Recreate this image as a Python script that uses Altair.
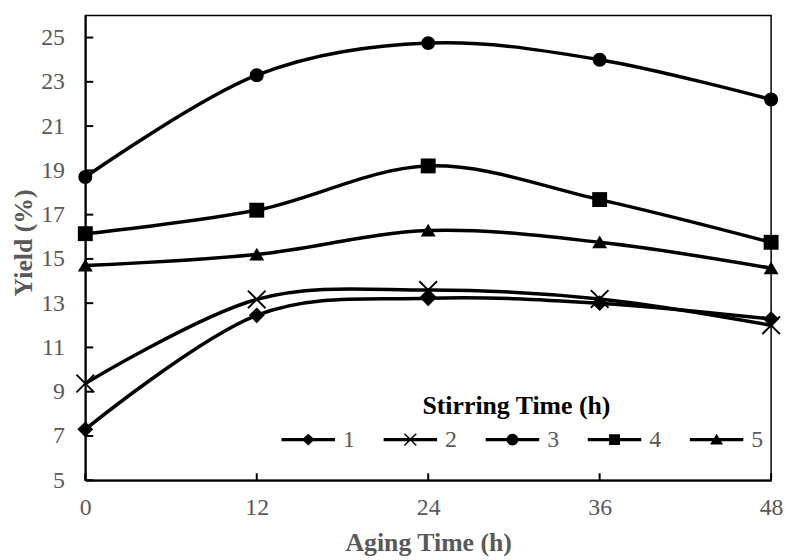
import altair as alt
import pandas as pd

# ---- data ----
aging = [0, 12, 24, 36, 48]
series_names = ["1", "2", "3", "4", "5"]
yield_1 = [7.3, 12.45, 13.22, 13.0, 12.28]
yield_2 = [9.37, 13.17, 13.59, 13.19, 12.0]
yield_3 = [18.7, 23.3, 24.75, 24.0, 22.2]
yield_4 = [16.14, 17.2, 19.2, 17.68, 15.75]
yield_5 = [14.7, 15.2, 16.28, 15.75, 14.58]
x_ticks = [0, 12, 24, 36, 48]
y_ticks = [5, 7, 9, 11, 13, 15, 17, 19, 21, 23, 25]

rows = []
for name, vals in zip(series_names, [yield_1, yield_2, yield_3, yield_4, yield_5]):
    for a, v in zip(aging, vals):
        rows.append({"aging": a, "yield": v, "stir": name})
df = pd.DataFrame(rows)


# ---- marker shapes (SVG paths, unit coordinates) ----
def fmt(v):
    return f"{v:.3f}"


def poly(pts):
    return "M" + "L".join(f"{fmt(x)},{fmt(y)}" for x, y in pts) + "Z"


def diamond(cx, hw, hh):
    return poly([(cx - hw, 0), (cx, -hh), (cx + hw, 0), (cx, hh)])


def square(cx, h):
    return poly([(cx - h, -h), (cx + h, -h), (cx + h, h), (cx - h, h)])


def triangle(cx, hw, top, bot):
    return poly([(cx, top), (cx + hw, bot), (cx - hw, bot)])


def circle(cx, r):
    return (f"M{fmt(cx + r)},0A{fmt(r)},{fmt(r)},0,1,1,{fmt(cx - r)},0"
            f"A{fmt(r)},{fmt(r)},0,1,1,{fmt(cx + r)},0Z")


def xmark(cx, L, a):
    pts = [(-L, -L + a), (-L + a, -L), (0, -a), (L - a, -L), (L, -L + a), (a, 0),
           (L, L - a), (L - a, L), (0, a), (-L + a, L), (-L, L - a), (-a, 0)]
    return poly([(cx + x, y) for x, y in pts])


marker_paths = [
    diamond(0, 1.0, 1.0),
    xmark(0, 1.2, 0.17),
    circle(0, 0.875),
    square(0, 0.94),
    triangle(0, 0.94, -0.85, 0.75),
]

LX = 5.4  # legend line length in units (size 400 -> 10 px per unit)
mid = LX / 2
line_path = poly([(0, -0.17), (LX, -0.17), (LX, 0.17), (0, 0.17)])
legend_paths = [
    line_path + diamond(mid, 0.65, 0.6),
    line_path + xmark(mid, 0.65, 0.1),
    line_path + circle(mid, 0.6),
    line_path + square(mid, 0.55),
    line_path + triangle(mid, 0.65, -0.6, 0.5),
]

W, H = 692, 469
FONT = "Liberation Serif"
GRAY = "#595959"

xs = alt.Scale(domain=[0, 48], nice=False, zero=False)
ys = alt.Scale(domain=[5, 26], nice=False, zero=False)

x_axis = alt.Axis(values=x_ticks, title="Aging Time (h)", grid=False, ticks=False, tickSize=0,
                  labelFont=FONT, labelFontSize=24, labelColor=GRAY, labelPadding=16,
                  labelFlush=False, labelOverlap=False,
                  domainColor="black", domainWidth=2,
                  titleFont=FONT, titleFontSize=26, titleFontWeight="bold", titleColor=GRAY,
                  titleX=W / 2, titleY=71, titleBaseline="alphabetic", titleAlign="center")
y_axis = alt.Axis(values=y_ticks, title="Yield (%)", grid=False, ticks=False, tickSize=0,
                  labelFont=FONT, labelFontSize=24, labelColor=GRAY, labelPadding=21,
                  labelFlush=False, labelOverlap=False,
                  domainColor="black", domainWidth=2,
                  titleFont=FONT, titleFontSize=26, titleFontWeight="bold", titleColor=GRAY,
                  titleAngle=270, titleX=-54, titleY=229, titleBaseline="alphabetic",
                  titleAlign="center")

base = alt.Chart(df)

lines = base.mark_line(color="black", strokeWidth=3.5, interpolate="cardinal").encode(
    x=alt.X("aging:Q", scale=xs, axis=x_axis),
    y=alt.Y("yield:Q", scale=ys, axis=y_axis),
    detail="stir:N",
)

points = base.mark_point(filled=True, color="black", opacity=1, size=256).encode(
    x=alt.X("aging:Q", scale=xs, axis=x_axis),
    y=alt.Y("yield:Q", scale=ys, axis=y_axis),
    shape=alt.Shape("stir:N", scale=alt.Scale(domain=series_names, range=marker_paths), legend=None),
)

legend_layer = base.mark_point(filled=True, color="black", opacity=1, size=400, clip=True).encode(
    x=alt.value(-500),
    y=alt.value(-500),
    shape=alt.Shape(
        "stir:N",
        scale=alt.Scale(domain=series_names, range=legend_paths),
        legend=alt.Legend(
            title="Stirring Time (h)", orient="none", legendX=186, legendY=381,
            direction="horizontal", padding=0,
            titleFont=FONT, titleFontSize=26, titleFontWeight="bold", titleColor="black",
            titleAnchor="middle", titlePadding=9, titleLimit=600,
            labelFont=FONT, labelFontSize=24, labelColor=GRAY, labelOffset=50,
            symbolSize=400, symbolFillColor="black", symbolStrokeWidth=0, symbolOpacity=1,
            columnPadding=17,
        ),
    ),
)

xtick_layer = alt.Chart(pd.DataFrame({"aging": x_ticks})).mark_rule(color="black", strokeWidth=2).encode(
    x=alt.X("aging:Q", scale=xs, axis=x_axis),
    y=alt.value(H),
    y2=alt.value(H - 7),
)
ytick_layer = alt.Chart(pd.DataFrame({"yield": y_ticks})).mark_rule(color="black", strokeWidth=2).encode(
    y=alt.Y("yield:Q", scale=ys, axis=y_axis),
    x=alt.value(0),
    x2=alt.value(8),
)

chart = (
    alt.layer(lines, points, legend_layer, xtick_layer, ytick_layer)
    .resolve_scale(shape="independent")
    .properties(
        width=W, height=H,
        autosize=alt.AutoSizeParams(type="none"),
        padding={"left": 78, "top": 5, "right": 12, "bottom": 78},
    )
    .configure(font=FONT, background="white")
    .configure_view(stroke="black", strokeWidth=1.5)
)

chart.save("out.html", embed_options={"renderer": "svg", "actions": False})
